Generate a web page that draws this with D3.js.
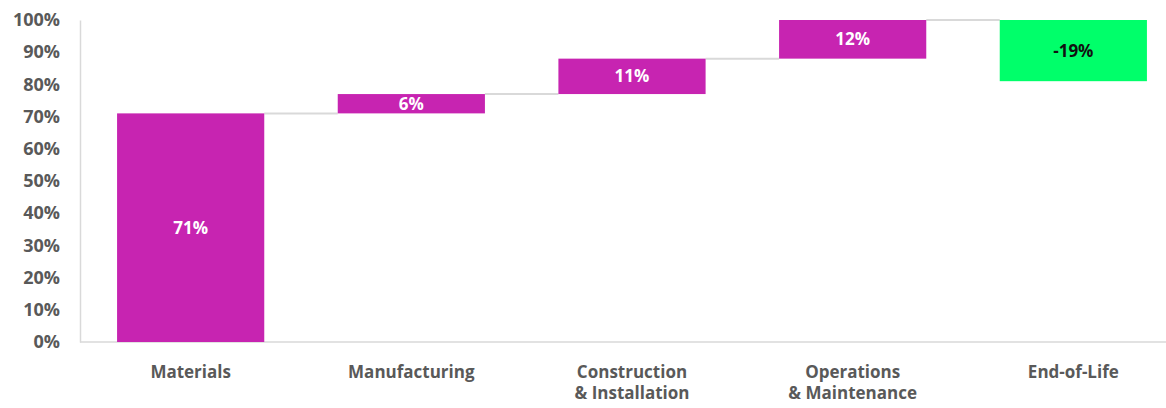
<!DOCTYPE html>
<html>
<head>
<meta charset="utf-8">
<script src="https://cdn.jsdelivr.net/npm/d3@7"></script>
<style>
  body { margin: 0; background: #fff; }
  text { font-family: "Open Sans", sans-serif; font-weight: 700; }
</style>
</head>
<body>
<div id="chart-container"></div>
<script>
// Waterfall data
const stages = ["Materials", "Manufacturing", "Construction\n& Installation", "Operations\n& Maintenance", "End-of-Life"];
const changes = [71, 6, 11, 12, -19];
const yTicks = [0, 10, 20, 30, 40, 50, 60, 70, 80, 90, 100];

const width = 1166;
const height = 408;
const margin = { top: 20, right: 0, bottom: 66, left: 80 };

// Build start/end for each step
let running = 0;
const data = stages.map((s, i) => {
    const start = running;
    running += changes[i];
    return { stage: s, value: changes[i], start: start, end: running };
});

const svg = d3.select('#chart-container').append('svg')
  .attr('width', width)
  .attr('height', height);

const xScale = d3.scaleBand()
  .domain(stages)
  .range([margin.left, 1184])
  .paddingInner(0.333)
  .paddingOuter(0.168);

const yScale = d3.scaleLinear()
  .domain([0, 100])
  .range([height - margin.bottom, margin.top]);

// Y axis
const yAxis = svg.append('g')
  .attr('transform', `translate(${margin.left},0)`)
  .call(d3.axisLeft(yScale).tickValues(yTicks).tickFormat(d => d + '%').tickSize(0).tickPadding(20));
yAxis.select('.domain').attr('stroke', '#d9d9d9').attr('stroke-width', 1.5);
yAxis.selectAll('text')
  .attr('fill', '#595959')
  .style('font-size', '18px');

// X baseline
svg.append('line')
  .attr('x1', margin.left).attr('x2', width)
  .attr('y1', yScale(0)).attr('y2', yScale(0))
  .attr('stroke', '#d9d9d9').attr('stroke-width', 1.5);

// Connector lines
svg.selectAll('.connector')
  .data(data.slice(0, -1))
  .enter().append('line')
  .attr('class', 'connector')
  .attr('x1', d => xScale(d.stage) + xScale.bandwidth())
  .attr('x2', (d, i) => xScale(stages[i + 1]))
  .attr('y1', d => yScale(d.end))
  .attr('y2', d => yScale(d.end))
  .attr('stroke', '#d9d9d9')
  .attr('stroke-width', 2);

// Bars
svg.selectAll('.bar')
  .data(data)
  .enter().append('rect')
  .attr('class', 'bar')
  .attr('x', d => xScale(d.stage))
  .attr('y', d => yScale(Math.max(d.start, d.end)))
  .attr('width', xScale.bandwidth())
  .attr('height', d => Math.abs(yScale(d.start) - yScale(d.end)))
  .attr('fill', d => d.value < 0 ? '#00ff6a' : '#c724b1');

// Bar labels
svg.selectAll('.bar-label')
  .data(data)
  .enter().append('text')
  .attr('class', 'bar-label')
  .attr('x', d => xScale(d.stage) + xScale.bandwidth() / 2)
  .attr('y', d => yScale((d.start + d.end) / 2))
  .attr('dy', '0.36em')
  .attr('text-anchor', 'middle')
  .attr('fill', d => d.value < 0 ? '#111' : '#fff')
  .style('font-size', '17px')
  .text(d => d.value + '%');

// X labels
const xLabels = svg.selectAll('.x-label')
  .data(data)
  .enter().append('text')
  .attr('class', 'x-label')
  .attr('x', d => xScale(d.stage) + xScale.bandwidth() / 2)
  .attr('y', 378)
  .attr('text-anchor', 'middle')
  .attr('fill', '#595959')
  .style('font-size', '17px');

xLabels.selectAll('tspan')
  .data(d => d.stage.split('\n'))
  .enter().append('tspan')
  .attr('x', function() { return d3.select(this.parentNode).attr('x'); })
  .attr('dy', (d, i) => i === 0 ? 0 : 21)
  .text(d => d);
</script>
</body>
</html>
